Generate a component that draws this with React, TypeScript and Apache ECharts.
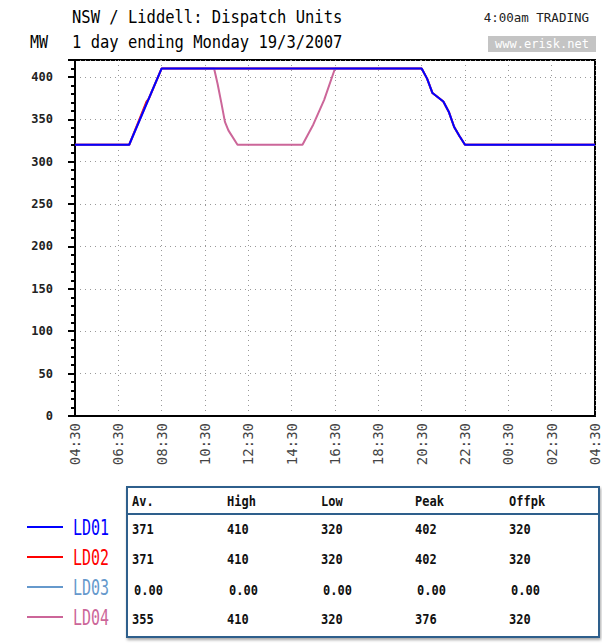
import React, { useEffect, useRef } from "react";
import * as echarts from "echarts";

// ---- Data ----
const xTickLabels = ["04:30", "06:30", "08:30", "10:30", "12:30", "14:30", "16:30", "18:30", "20:30", "22:30", "00:30", "02:30", "04:30"];

// hours after 04:30 (Sunday) and MW
const timesLD01 = [0, 2.5, 4, 16, 16.25, 16.5, 16.75, 17, 17.25, 17.5, 17.75, 18, 24];
const valuesLD01 = [320, 320, 410, 410, 398, 381, 376, 371, 359, 341, 330, 320, 320];

const timesLD02 = [0, 2.5, 3.3, 3.4, 4, 16, 16.25, 16.5, 16.75, 17, 17.25, 17.5, 17.75, 18, 24];
const valuesLD02 = [320, 320, 371, 374, 410, 410, 398, 381, 376, 371, 359, 341, 330, 320, 320];

const timesLD03 = [0, 24];
const valuesLD03 = [0, 0];

const timesLD04 = [0, 2.5, 4, 6.42, 6.58, 6.75, 6.92, 7.08, 7.5, 10.5, 11, 11.5, 12, 16, 16.25, 16.5, 16.75, 17, 17.25, 17.5, 17.75, 18, 24];
const valuesLD04 = [320, 320, 410, 410, 392, 370, 347, 337, 320, 320, 344, 373, 410, 410, 398, 381, 376, 371, 359, 341, 330, 320, 320];

const seriesNames = ["LD01", "LD02", "LD03", "LD04"];
const seriesColors = ["#0000ff", "#ff0000", "#6699cc", "#cc6699"];

const tableHeaders = ["Av.", "High", "Low", "Peak", "Offpk"];
const statsLD01 = ["371", "410", "320", "402", "320"];
const statsLD02 = ["371", "410", "320", "402", "320"];
const statsLD03 = ["0.00", "0.00", "0.00", "0.00", "0.00"];
const statsLD04 = ["355", "410", "320", "376", "320"];
const statsRows = [statsLD01, statsLD02, statsLD03, statsLD04];

const titleLine1 = "NSW / Liddell: Dispatch Units";
const titleLine2 = "1 day ending Monday 19/3/2007";
const unitLabel = "MW";
const tradingLabel = "4:00am TRADING";
const siteLabel = "www.erisk.net";

const zip = (t: number[], v: number[]) => t.map((x, i) => [x, v[i]]);

const MONO = "'DejaVu Sans Mono', 'Liberation Mono', monospace";

export default function App() {
  const ref = useRef<HTMLDivElement>(null);

  useEffect(() => {
    if (!ref.current) return;
    const chart = echarts.init(ref.current, null, { renderer: "svg" });

    const colX = [132, 227, 321, 415, 509];
    const rowY = [529, 559, 590, 619];
    const legendY = [527, 557, 587, 617];

    const graphics: any[] = [
      {
        type: "text", x: 72, y: 17, scaleY: 1.12,
        style: { text: titleLine1, font: `15.5px ${MONO}`, fill: "#000", verticalAlign: "middle" },
      },
      {
        type: "text", x: 72, y: 42, scaleY: 1.12,
        style: { text: titleLine2, font: `15.5px ${MONO}`, fill: "#000", verticalAlign: "middle" },
      },
      {
        type: "text", x: 30, y: 42, scaleY: 1.12,
        style: { text: unitLabel, font: `15px ${MONO}`, fill: "#000", verticalAlign: "middle" },
      },
      {
        type: "text", x: 589, y: 17,
        style: { text: tradingLabel, font: `12.5px ${MONO}`, fill: "#222", align: "right", verticalAlign: "middle" },
      },
      { type: "rect", shape: { x: 488, y: 36, width: 108, height: 16 }, style: { fill: "#c4c4c4" } },
      {
        type: "text", x: 542, y: 44,
        style: { text: siteLabel, font: `12px ${MONO}`, fill: "#ffffff", align: "center", verticalAlign: "middle" },
      },
      // table box
      {
        type: "rect",
        shape: { x: 127, y: 487, width: 472, height: 150 },
        style: { fill: "#fff", stroke: "#2e5f8c", lineWidth: 2, shadowBlur: 3, shadowOffsetX: 1, shadowOffsetY: 2, shadowColor: "rgba(0,0,0,0.35)" },
      },
      { type: "line", shape: { x1: 127, y1: 514, x2: 599, y2: 514 }, style: { stroke: "#2e5f8c", lineWidth: 2 } },
    ];

    tableHeaders.forEach((h, i) => {
      graphics.push({
        type: "text", x: colX[i], y: 501, scaleY: 1.15,
        style: { text: h, font: `bold 12px ${MONO}`, fill: "#111", verticalAlign: "middle" },
      });
    });
    statsRows.forEach((row, r) => {
      row.forEach((val, i) => {
        graphics.push({
          type: "text", x: colX[i] + (r === 2 ? 2 : 0), y: rowY[r], scaleY: 1.15,
          style: { text: val, font: `bold 12px ${MONO}`, fill: "#111", verticalAlign: "middle" },
        });
      });
    });
    seriesNames.forEach((n, i) => {
      graphics.push({
        type: "line", shape: { x1: 27, y1: legendY[i], x2: 63, y2: legendY[i] },
        style: { stroke: seriesColors[i], lineWidth: 2 },
      });
      graphics.push({
        type: "text", x: 73, y: legendY[i] + 1, scaleY: 1.4,
        style: { text: n, font: `15px ${MONO}`, fill: seriesColors[i], verticalAlign: "middle" },
      });
    });

    const lineSeries = (name: string, color: string, data: number[][], z: number) => ({
      name,
      type: "line",
      data,
      z,
      showSymbol: false,
      symbol: "none",
      lineStyle: { color, width: 2 },
      itemStyle: { color },
    });

    chart.setOption({
      animation: false,
      backgroundColor: "#ffffff",
      grid: {
        left: 75, top: 60, width: 524, height: 356,
        show: true, borderColor: "#000", borderWidth: 2, backgroundColor: "transparent",
      },
      xAxis: {
        type: "value",
        min: 0, max: 24, interval: 2,
        axisLine: { show: true, onZero: false, lineStyle: { color: "#000", width: 2 } },
        axisTick: { show: false },
        axisLabel: {
          rotate: 90, margin: 7,
          fontFamily: "DejaVu Sans Mono", fontSize: 14, color: "#444",
          formatter: (v: number) => xTickLabels[Math.round(v / 2)] ?? "",
        },
        splitLine: { show: true, lineStyle: { color: "#999999", type: [1, 4], width: 1 } },
      },
      yAxis: {
        type: "value",
        min: 0, max: 420, interval: 50,
        axisLine: { show: true, lineStyle: { color: "#000", width: 2 } },
        axisTick: { show: true, inside: false, length: 7, lineStyle: { color: "#000", width: 2 } },
        minorTick: { show: true, splitNumber: 5, length: 4, lineStyle: { color: "#000", width: 2 } },
        axisLabel: {
          margin: 22, showMaxLabel: false,
          fontFamily: "DejaVu Sans Mono", fontSize: 12, fontWeight: "bold", color: "#222",
        },
        splitLine: { show: true, lineStyle: { color: "#999999", type: [1, 4], width: 1 } },
      },
      graphic: graphics,
      series: [
        lineSeries(seriesNames[2], seriesColors[2], zip(timesLD03, valuesLD03), -1),
        lineSeries(seriesNames[1], seriesColors[1], zip(timesLD02, valuesLD02), 2),
        lineSeries(seriesNames[3], seriesColors[3], zip(timesLD04, valuesLD04), 2),
        lineSeries(seriesNames[0], seriesColors[0], zip(timesLD01, valuesLD01), 2),
      ],
    });

    return () => chart.dispose();
  }, []);

  return (
    <div
      ref={ref}
      style={{ position: "absolute", left: 0, top: 0, width: 602, height: 643, background: "#fff" }}
    />
  );
}
